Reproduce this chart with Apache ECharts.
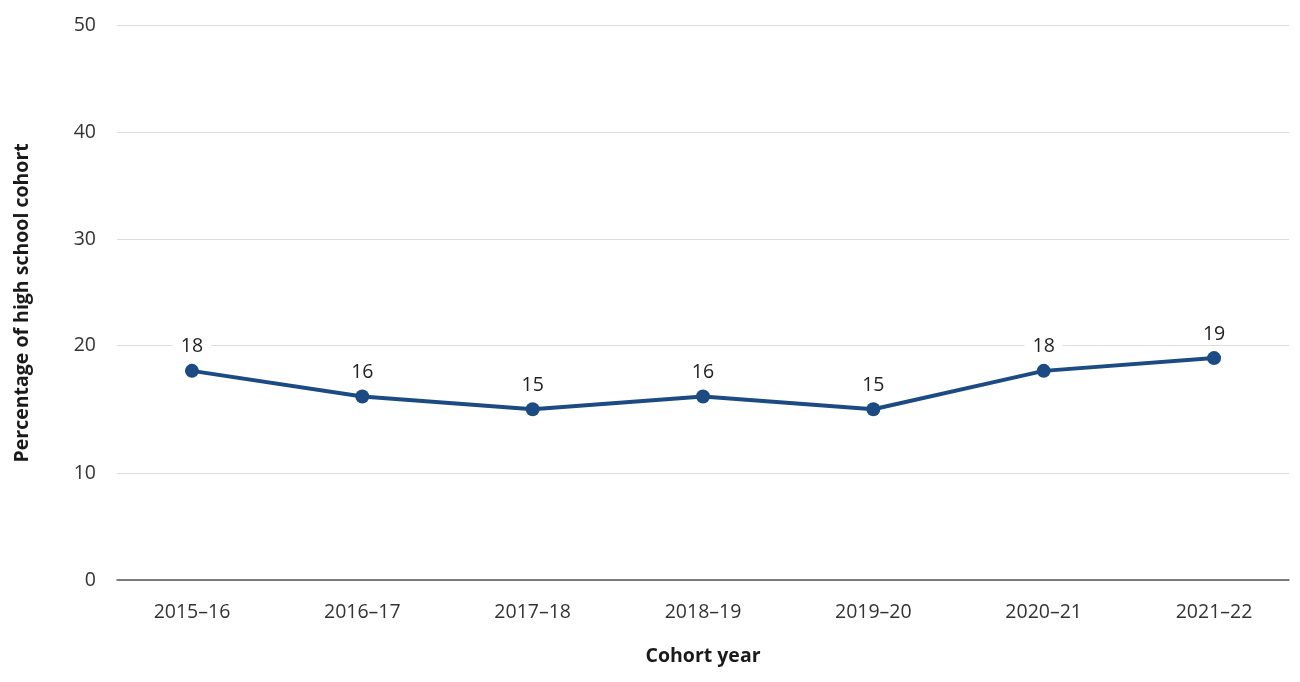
<!DOCTYPE html>
<html><head><meta charset="utf-8">
<script src="https://cdn.jsdelivr.net/npm/echarts@6/dist/echarts.min.js"></script>
<style>html,body{margin:0;padding:0;background:#fff}#c{width:1300px;height:682px}</style>
</head><body><div id="c"></div>
<script>
const categories = ['2015\u201316','2016\u201317','2017\u201318','2018\u201319','2019\u201320','2020\u201321','2021\u201322'];
const values = [18, 16, 15, 16, 15, 18, 19];
const yTickLabels = ['0','10','20','30','40','50'];
// where the reference's gridlines fall on the data scale
const yTickAt = [1.66, 10, 20, 28.3, 36.64, 44.97];

const FONT = '"Open Sans", Lato, sans-serif';
const FS = 19.5;
const chart = echarts.init(document.getElementById('c'), null, {renderer:'canvas'});
chart.setOption({
  animation:false,
  grid:{left:117, right:11, top:25.7, bottom:102, containLabel:false, outerBoundsMode:'none'},
  xAxis:{
    type:'value', min:-0.44, max:6.44,
    name:'Cohort year', nameLocation:'middle', nameGap:66,
    nameTextStyle:{fontFamily:FONT, fontSize:FS, fontWeight:'bold', color:'#1a1a1a'},
    axisLine:{show:true, lineStyle:{color:'#555', width:1.5}},
    axisTick:{show:false, customValues:categories.map((c,i)=>i)},
    splitLine:{show:false},
    axisLabel:{customValues:categories.map((c,i)=>i), formatter:v=>categories[Math.round(v)],
      fontFamily:FONT, fontSize:FS, color:'#333', margin:22}
  },
  yAxis:{
    type:'value', min:yTickAt[0], max:yTickAt[yTickAt.length-1],
    name:'Percentage of high school cohort', nameLocation:'middle', nameGap:85,
    nameTextStyle:{fontFamily:FONT, fontSize:FS, fontWeight:'bold', color:'#1a1a1a'},
    axisLine:{show:false},
    axisTick:{show:false, customValues:yTickAt},
    splitLine:{show:true, lineStyle:{color:'#dddddd', width:1}},
    axisLabel:{customValues:yTickAt,
      formatter:v=>{let b=0;yTickAt.forEach((t,i)=>{if(Math.abs(t-v)<Math.abs(yTickAt[b]-v))b=i;});return yTickLabels[b];},
      fontFamily:FONT, fontSize:FS, color:'#333', margin:21}
  },
  series:[{
    type:'line',
    data:values.map((v,i)=>[i,v]),
    lineStyle:{color:'#1b4b82', width:4},
    itemStyle:{color:'#1b4b82'},
    symbol:'circle', symbolSize:14,
    label:{show:true, position:'top', distance:7, formatter:p=>p.value[1],
      fontFamily:FONT, fontSize:FS, color:'#222', backgroundColor:'#fff', padding:[0,8]}
  }]
});
</script></body></html>
